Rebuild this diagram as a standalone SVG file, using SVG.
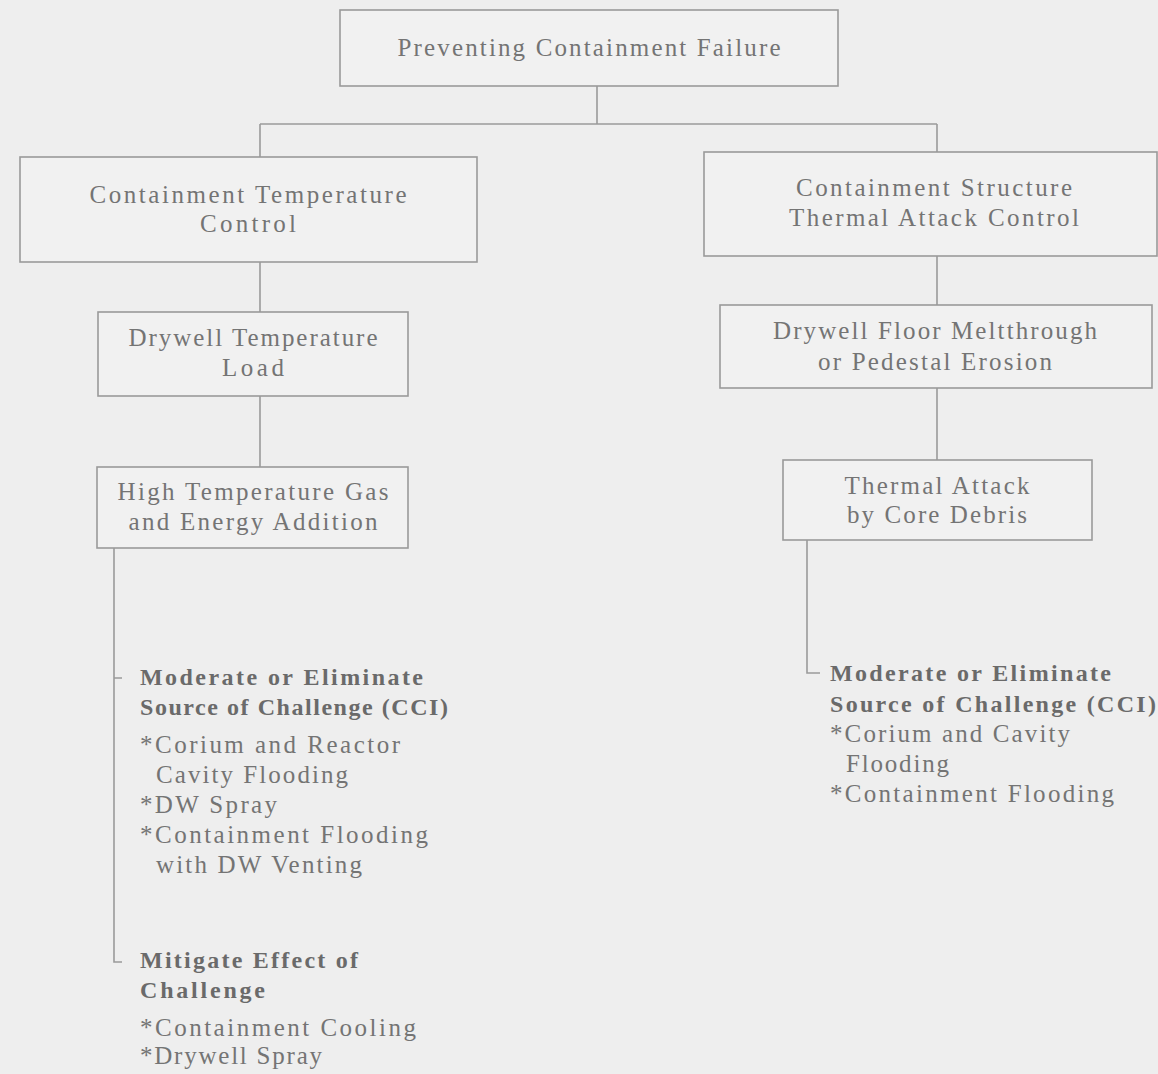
<svg xmlns="http://www.w3.org/2000/svg" width="1158" height="1074" viewBox="0 0 1158 1074">
<style>
.bg{fill:#eeeeee}
.box{fill:#f1f1f1;stroke:#9a9a9a;stroke-width:1.6}
.ln{fill:none;stroke:#9a9a9a;stroke-width:1.6}
text{font-family:"Liberation Serif","Times New Roman",serif;font-size:25px;fill:#747474}
.c{text-anchor:middle}
.b{font-weight:bold;fill:#6a6a6a;font-size:24px}
</style>
<rect class="bg" x="0" y="0" width="1158" height="1074"/>
<g id="connectors">
<path class="ln" d="M597 86V124M260 124H937M260 124V157M937 124V152"/>
<path class="ln" d="M260 262V312M260 396V467"/>
<path class="ln" d="M937 256V305M937 388V460"/>
<path class="ln" d="M114 548V962H122M114 678H122"/>
<path class="ln" d="M807 540V673H820"/>
</g>
<g id="n1">
<rect class="box" x="340" y="10" width="498" height="76"/>
<text class="c" x="589" y="56" textLength="383" lengthAdjust="spacing">Preventing Containment Failure</text>
</g>
<g id="n2">
<rect class="box" x="20" y="157" width="457" height="105"/>
<text class="c" x="248" y="203" textLength="317" lengthAdjust="spacing">Containment Temperature</text>
<text class="c" x="248" y="232" textLength="96" lengthAdjust="spacing">Control</text>
</g>
<g id="n3">
<rect class="box" x="704" y="152" width="453" height="104"/>
<text class="c" x="934" y="196" textLength="276" lengthAdjust="spacing">Containment Structure</text>
<text class="c" x="934" y="226" textLength="290" lengthAdjust="spacing">Thermal Attack Control</text>
</g>
<g id="n4">
<rect class="box" x="98" y="312" width="310" height="84"/>
<text class="c" x="253" y="346" textLength="249" lengthAdjust="spacing">Drywell Temperature</text>
<text class="c" x="253" y="376" textLength="62" lengthAdjust="spacing">Load</text>
</g>
<g id="n5">
<rect class="box" x="720" y="305" width="432" height="83"/>
<text class="c" x="935" y="339" textLength="324" lengthAdjust="spacing">Drywell Floor Meltthrough</text>
<text class="c" x="935" y="370" textLength="234" lengthAdjust="spacing">or Pedestal Erosion</text>
</g>
<g id="n6">
<rect class="box" x="97" y="467" width="311" height="81"/>
<text class="c" x="253" y="500" textLength="271" lengthAdjust="spacing">High Temperature Gas</text>
<text class="c" x="253" y="530" textLength="249" lengthAdjust="spacing">and Energy Addition</text>
</g>
<g id="n7">
<rect class="box" x="783" y="460" width="309" height="80"/>
<text class="c" x="937" y="494" textLength="185" lengthAdjust="spacing">Thermal Attack</text>
<text class="c" x="937" y="523" textLength="180" lengthAdjust="spacing">by Core Debris</text>
</g>
<g id="n8">
<text class="b" x="140" y="685" textLength="283" lengthAdjust="spacing">Moderate or Eliminate</text>
<text class="b" x="140" y="715" textLength="308" lengthAdjust="spacing">Source of Challenge (CCI)</text>
<text x="140" y="753" textLength="260" lengthAdjust="spacing">*Corium and Reactor</text>
<text x="156" y="783" textLength="192" lengthAdjust="spacing">Cavity Flooding</text>
<text x="140" y="813" textLength="137" lengthAdjust="spacing">*DW Spray</text>
<text x="140" y="843" textLength="288" lengthAdjust="spacing">*Containment Flooding</text>
<text x="156" y="873" textLength="206" lengthAdjust="spacing">with DW Venting</text>
</g>
<g id="n9">
<text class="b" x="140" y="968" textLength="218" lengthAdjust="spacing">Mitigate Effect of</text>
<text class="b" x="140" y="998" textLength="125" lengthAdjust="spacing">Challenge</text>
<text x="140" y="1036" textLength="276" lengthAdjust="spacing">*Containment Cooling</text>
<text x="140" y="1064" textLength="182" lengthAdjust="spacing">*Drywell Spray</text>
</g>
<g id="n10">
<text class="b" x="830" y="681" textLength="281" lengthAdjust="spacing">Moderate or Eliminate</text>
<text class="b" x="830" y="712" textLength="326" lengthAdjust="spacing">Source of Challenge (CCI)</text>
<text x="830" y="742" textLength="240" lengthAdjust="spacing">*Corium and Cavity</text>
<text x="846" y="772" textLength="103" lengthAdjust="spacing">Flooding</text>
<text x="830" y="802" textLength="284" lengthAdjust="spacing">*Containment Flooding</text>
</g>
</svg>
